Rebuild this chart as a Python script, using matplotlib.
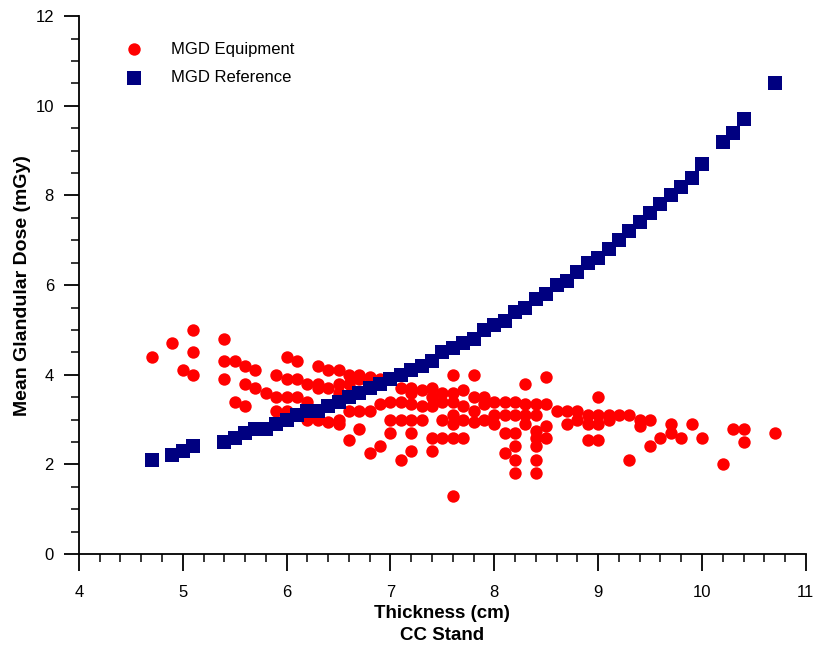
import matplotlib
matplotlib.use("Agg")
import matplotlib.pyplot as plt
from matplotlib.ticker import MultipleLocator

plt.rcParams['font.family'] = ['Liberation Sans', 'DejaVu Sans']

# MGD Reference (blue squares)
ref_thickness = [4.7, 4.9, 5.0, 5.1, 5.4, 5.5, 5.6, 5.7, 5.8, 5.9, 6.0, 6.1, 6.2, 6.3,
                 6.4, 6.5, 6.6, 6.7, 6.8, 6.9, 7.0, 7.1, 7.2, 7.3, 7.4, 7.5, 7.6, 7.7,
                 7.8, 7.9, 8.0, 8.1, 8.2, 8.3, 8.4, 8.5, 8.6, 8.7, 8.8, 8.9, 9.0, 9.1,
                 9.2, 9.3, 9.4, 9.5, 9.6, 9.7, 9.8, 9.9, 10.0, 10.2, 10.3, 10.4, 10.7]
ref_mgd = [2.1, 2.2, 2.3, 2.4, 2.5, 2.6, 2.7, 2.8, 2.8, 2.9, 3.0, 3.1, 3.2, 3.2,
           3.3, 3.4, 3.5, 3.6, 3.7, 3.8, 3.9, 4.0, 4.1, 4.2, 4.3, 4.5, 4.6, 4.7,
           4.8, 5.0, 5.1, 5.2, 5.4, 5.5, 5.7, 5.8, 6.0, 6.1, 6.3, 6.5, 6.6, 6.8,
           7.0, 7.2, 7.4, 7.6, 7.8, 8.0, 8.2, 8.4, 8.7, 9.2, 9.4, 9.7, 10.5]

# MGD Equipment (red dots)
eq_thickness = [4.7, 4.9, 5.0, 5.1, 5.1, 5.1,
                5.4, 5.4, 5.4, 5.5, 5.5, 5.6, 5.6, 5.6, 5.7, 5.7, 5.8,
                5.9, 5.9, 5.9, 6.0, 6.0, 6.0, 6.0, 6.1, 6.1, 6.1, 6.2, 6.2, 6.2,
                6.3, 6.3, 6.3, 6.3, 6.4, 6.4, 6.4,
                6.5, 6.5, 6.5, 6.5, 6.5, 6.5, 6.6, 6.6, 6.6, 6.6, 6.7, 6.7, 6.7, 6.7,
                6.8, 6.8, 6.8, 6.9, 6.9, 6.9, 7.0, 7.0, 7.0, 7.0,
                7.1, 7.1, 7.1, 7.1, 7.2, 7.2, 7.2, 7.2, 7.2, 7.2, 7.3, 7.3, 7.3,
                7.4, 7.4, 7.4, 7.4, 7.4, 7.5, 7.5, 7.5, 7.5,
                7.6, 7.6, 7.6, 7.6, 7.6, 7.6, 7.6, 7.7, 7.7, 7.7, 7.7,
                7.8, 7.8, 7.8, 7.8, 7.9, 7.9, 7.9, 8.0, 8.0, 8.0,
                8.1, 8.1, 8.1, 8.1, 8.2, 8.2, 8.2, 8.2, 8.2, 8.2,
                8.3, 8.3, 8.3, 8.3, 8.4, 8.4, 8.4, 8.4, 8.4, 8.4, 8.4,
                8.5, 8.5, 8.5, 8.5, 8.6, 8.7, 8.7, 8.8, 8.8,
                8.9, 8.9, 8.9, 9.0, 9.0, 9.0, 9.0, 9.1, 9.1, 9.2, 9.3, 9.3,
                9.4, 9.4, 9.5, 9.5, 9.6, 9.7, 9.7, 9.8, 9.9, 10.0, 10.2,
                10.3, 10.4, 10.4, 10.7]
eq_mgd = [4.4, 4.7, 4.1, 5.0, 4.5, 4.0,
          4.8, 4.3, 3.9, 4.3, 3.4, 4.2, 3.8, 3.3, 4.1, 3.7, 3.6,
          4.0, 3.5, 3.2, 4.4, 3.9, 3.5, 3.2, 4.3, 3.9, 3.5, 3.8, 3.4, 3.0,
          4.2, 3.8, 3.7, 3.0, 4.1, 3.7, 2.95,
          4.1, 3.8, 3.6, 3.5, 2.9, 3.0, 4.0, 3.8, 3.2, 2.55, 4.0, 3.9, 3.2, 2.8,
          3.95, 3.2, 2.25, 3.9, 3.35, 2.4, 3.9, 3.4, 3.0, 2.7,
          3.7, 3.4, 3.0, 2.1, 3.7, 3.6, 3.35, 3.0, 2.7, 2.3, 3.65, 3.3, 3.0,
          3.7, 3.5, 3.3, 2.6, 2.3, 3.6, 3.4, 3.0, 2.6,
          4.0, 3.6, 3.4, 3.1, 2.9, 2.6, 1.3, 3.65, 3.3, 3.0, 2.6,
          4.0, 3.5, 3.2, 2.95, 3.5, 3.35, 3.0, 3.4, 3.1, 2.9,
          3.4, 3.1, 2.7, 2.25, 3.4, 3.1, 2.7, 2.4, 2.1, 1.8,
          3.8, 3.35, 3.1, 2.9, 3.35, 3.1, 2.75, 2.6, 2.4, 2.1, 1.8,
          3.95, 3.35, 2.85, 2.6, 3.2, 3.2, 2.9, 3.2, 3.0,
          3.1, 2.9, 2.55, 3.5, 3.1, 2.9, 2.55, 3.1, 3.0, 3.1, 3.1, 2.1,
          3.0, 2.85, 3.0, 2.4, 2.6, 2.9, 2.7, 2.6, 2.9, 2.6, 2.0,
          2.8, 2.8, 2.5, 2.7]

fig = plt.figure(figsize=(8.14, 6.48), dpi=100)
ax = fig.add_axes([0.097, 0.145, 0.893, 0.830])

ax.scatter(eq_thickness, eq_mgd, s=80, color='#ff0000', marker='o',
           linewidths=0, label='MGD Equipment', zorder=2)
ax.scatter(ref_thickness, ref_mgd, s=95, color='#000080', marker='s',
           linewidths=0, label='MGD Reference', zorder=3)

ax.set_xlim(4, 11)
ax.set_ylim(0, 12)
ax.xaxis.set_major_locator(MultipleLocator(1))
ax.xaxis.set_minor_locator(MultipleLocator(0.2))
ax.yaxis.set_major_locator(MultipleLocator(2))
ax.yaxis.set_minor_locator(MultipleLocator(0.5))

for side in ['top', 'right']:
    ax.spines[side].set_visible(False)
for side in ['left', 'bottom']:
    ax.spines[side].set_linewidth(1.3)

ax.tick_params(axis='x', which='major', length=12, width=1.3, labelsize=12, pad=10)
ax.tick_params(axis='x', which='minor', length=6, width=1.1)
ax.tick_params(axis='y', which='major', length=11, width=1.3, labelsize=12, pad=7)
ax.tick_params(axis='y', which='minor', length=6, width=1.1)

ax.set_xlabel('Thickness (cm)\nCC Stand', fontsize=13.5, fontweight='bold', labelpad=4,
              linespacing=1.35)
ax.set_ylabel('Mean Glandular Dose (mGy)', fontsize=14, fontweight='bold', labelpad=3)

ax.legend(loc='upper left', bbox_to_anchor=(0.044, 0.965), borderaxespad=0,
          frameon=False, fontsize=12, handletextpad=1.2, labelspacing=0.8,
          scatterpoints=1)

fig.savefig('out.png', dpi=100)
